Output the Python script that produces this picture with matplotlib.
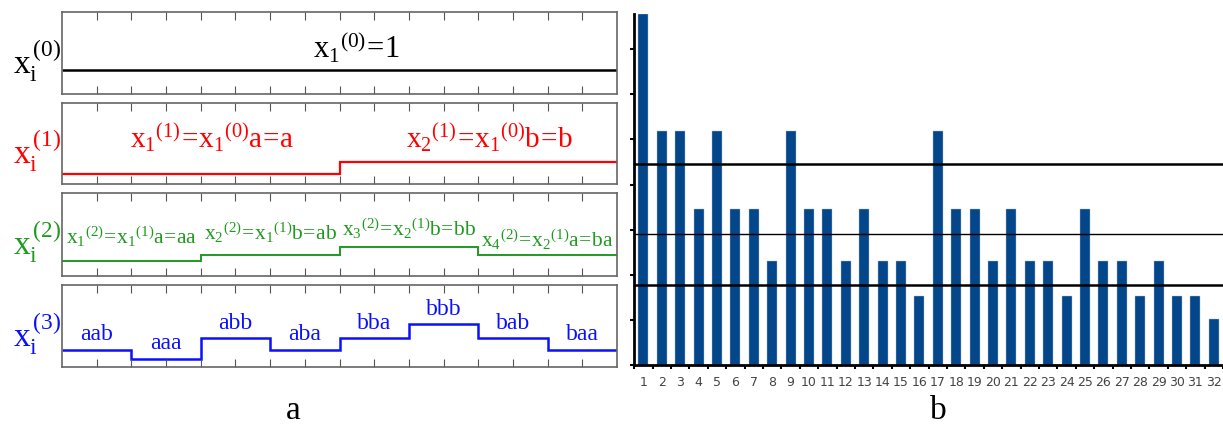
import matplotlib.pyplot as plt
import numpy as np

plt.rcParams['mathtext.fontset'] = 'custom'
plt.rcParams['mathtext.rm'] = 'Liberation Serif'
plt.rcParams['mathtext.it'] = 'Liberation Serif'
plt.rcParams['mathtext.default'] = 'rm'

# ---- data: panel a (step levels, fraction of panel height) ----
level0 = [0.29]
level1 = [0.12, 0.27]
level2 = [0.18, 0.25, 0.35, 0.25]
level3 = [0.21, 0.10, 0.35, 0.21, 0.35, 0.52, 0.35, 0.21]

words1 = [r'$x_1{}^{(1)}\!=\!x_1{}^{(0)}a\!=\!a$', r'$x_2{}^{(1)}\!=\!x_1{}^{(0)}b\!=\!b$']
words2 = [r'$x_1{}^{(2)}\!=\!x_1{}^{(1)}a\!=\!aa$', r'$x_2{}^{(2)}\!=\!x_1{}^{(1)}b\!=\!ab$',
          r'$x_3{}^{(2)}\!=\!x_2{}^{(1)}b\!=\!bb$', r'$x_4{}^{(2)}\!=\!x_2{}^{(1)}a\!=\!ba$']
words3 = ['aab', 'aaa', 'abb', 'aba', 'bba', 'bbb', 'bab', 'baa']

# ---- data: panel b ----
positions = list(range(1, 33))
probs = [0.0778, 0.0518, 0.0518, 0.0346, 0.0518, 0.0346, 0.0346, 0.0230,
         0.0518, 0.0346, 0.0346, 0.0230, 0.0346, 0.0230, 0.0230, 0.0154,
         0.0518, 0.0346, 0.0346, 0.0230, 0.0346, 0.0230, 0.0230, 0.0154,
         0.0346, 0.0230, 0.0230, 0.0154, 0.0230, 0.0154, 0.0154, 0.0102]
ref_levels = [0.0445, 0.0290, 0.0177]

fig = plt.figure(figsize=(12.23, 4.27), dpi=100)

colors = ['black', '#ff0000', '#1f9a1f', '#0a10ff']
levels = [level0, level1, level2, level3]
boxes = [(0.0507, 0.7775, 0.4538, 0.192),
         (0.0507, 0.5667, 0.4538, 0.190),
         (0.0507, 0.3513, 0.4538, 0.194),
         (0.0507, 0.1382, 0.4538, 0.192)]
text_y2 = [0.49, 0.54, 0.58, 0.45]

for k in range(4):
    ax = fig.add_axes(boxes[k])
    lev = levels[k]
    n = len(lev)
    edges = np.linspace(0, 1, n + 1)
    ax.stairs(lev, edges, color=colors[k], lw=[1.8, 1.6, 1.4, 1.8][k], baseline=None)
    ax.set_xlim(0, 1)
    ax.set_ylim(0, 1)
    ax.set_xticks(np.arange(1, 16) / 16)
    ax.set_yticks([])
    ax.tick_params(axis='x', direction='in', length=6, width=0.8, color='#555555',
                   top=True, bottom=True, labelbottom=False)
    for s in ax.spines.values():
        s.set_color('#666666')
        s.set_linewidth(1.2)
    fig.text(0.011, boxes[k][1] + boxes[k][3] * 0.42, r'$x_i^{\,(%d)}$' % k,
             color=colors[k], fontsize=24, va='center', ha='left')

    centers = (edges[:-1] + edges[1:]) / 2
    if k == 0:
        ax.text(0.53, 0.58, r'$x_1{}^{(0)}\!=\!1$', fontsize=22, ha='center', va='center')
    elif k == 1:
        for c, w in zip(centers, words1):
            ax.text(c + 0.02, 0.58, w, fontsize=21, ha='center', va='center', color=colors[k])
    elif k == 2:
        for c, w, ty in zip(centers, words2, text_y2):
            ax.text(c, ty, w, fontsize=15.5, ha='center', va='center', color=colors[k])
    else:
        for c, w, lv in zip(centers, words3, lev):
            ax.text(c, lv + 0.07, w, fontsize=17, family='Liberation Serif',
                    ha='center', va='bottom', color=colors[k])

# ---- panel b ----
axb = fig.add_axes([0.5184, 0.1429, 0.4816, 0.822])
axb.bar(positions, probs, width=0.55, color='#03468a', edgecolor='#a9c0dc', linewidth=0.3)
for i, y in enumerate(ref_levels):
    axb.axhline(y, color='black', lw=[1.8, 1.0, 1.8][i])
axb.set_xlim(0.49, 32.4)
axb.set_ylim(0, probs[0])
axb.set_xticks(positions)
axb.set_xticklabels([str(p) for p in positions], family=['Liberation Sans Narrow', 'DejaVu Sans'],
                    fontsize=9, color='#444444')
axb.set_xticks(np.arange(0.5, 33, 1), minor=True)
axb.tick_params(axis='x', which='major', length=0, pad=7)
axb.tick_params(axis='x', which='minor', length=3, width=1.5, direction='out')
axb.set_yticks(np.arange(0, 0.078, 0.01))
axb.tick_params(axis='y', length=3, width=1.5, labelleft=False)
axb.spines['top'].set_visible(False)
axb.spines['right'].set_visible(False)
axb.spines['left'].set_linewidth(2)
axb.spines['bottom'].set_linewidth(2)

fig.text(0.2396, 0.018, 'a', family='Liberation Serif', fontsize=24, ha='center')
fig.text(0.767, 0.018, 'b', family='Liberation Serif', fontsize=24, ha='center')

fig.savefig('out.png', dpi=100)
